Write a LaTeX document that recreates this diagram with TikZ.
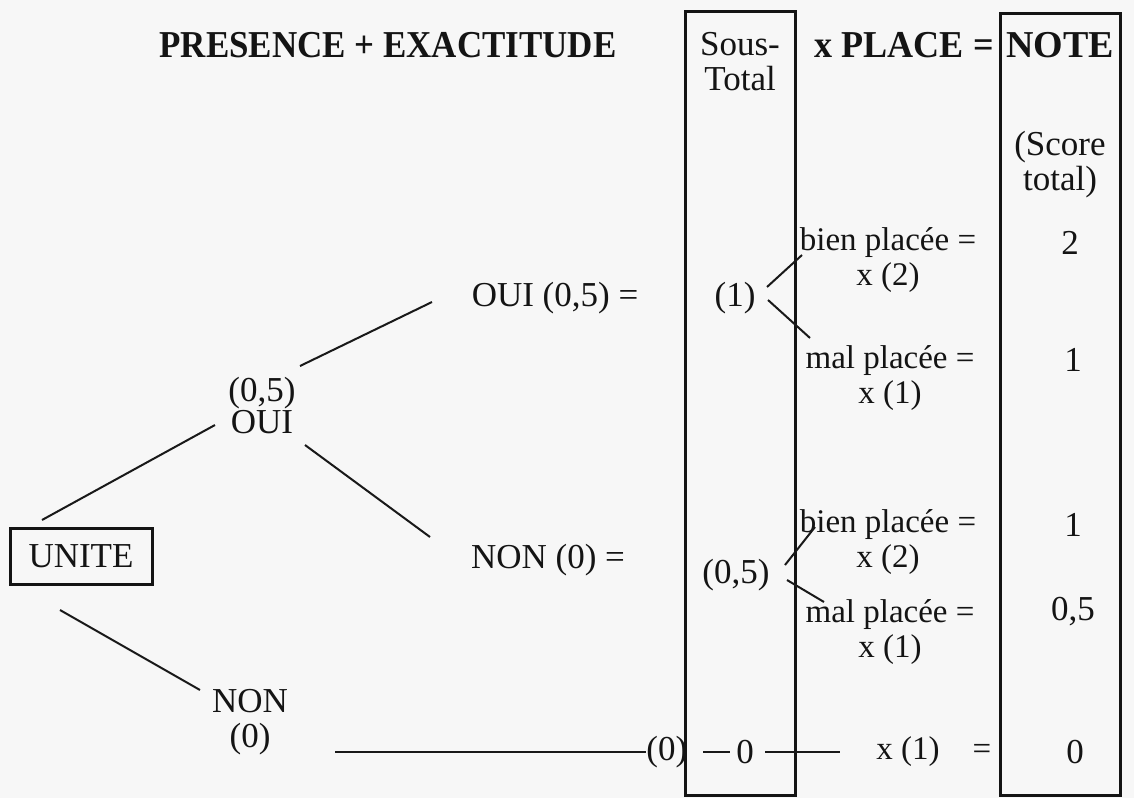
\documentclass[tikz,border=0pt]{standalone}
\usepackage{fontspec}
\setmainfont{Liberation Serif}
\begin{document}
\begin{tikzpicture}[x=0.5pt,y=-0.5pt,
  txt/.style={font=\fontsize{17.5}{17.5}\selectfont, inner sep=0pt, align=center, text=black!92},
  fac/.style={font=\fontsize{16.5}{17.5}\selectfont, inner sep=0pt, align=center, text=black!92},
  hd/.style={font=\fontsize{19}{19}\selectfont\bfseries, inner sep=0pt, text=black!92},
  colbox/.style={draw=black!92, line width=1.5pt, anchor=north, inner sep=0pt},
  link/.style={draw=black!90, line width=1pt}]
% paper
\fill[black!3] (0,0) rectangle (1134,798);
\useasboundingbox (0,0) rectangle (1134,798);

% column frames
\node[colbox, minimum width=55pt, minimum height=392pt] (stcol) at (740,10) {};
\node[colbox, minimum width=60pt, minimum height=391pt] (notecol) at (1060,12) {};

% header row
\node[hd] (title) at (388,45) {\scalebox{0.92}[1]{PRESENCE + EXACTITUDE}};
\node[txt] (sous) at (740,62) {Sous-\\Total};
\node[hd] (place) at (904,45) {\scalebox{0.95}[1]{x\hspace{5pt}PLACE\hspace{5pt}=}};
\node[hd] (note) at (1060,45) {NOTE};
\node[txt] (score) at (1060,165) {(Score\\total)};

% tree
\node[txt, draw=black!92, line width=1.5pt, minimum width=71pt, minimum height=28pt] (u) at (81,556) {UNITE};
\node[txt, font=\fontsize{17.5}{16}\selectfont] (p1) at (262,406) {(0,5)\\OUI};
\node[txt] (ouiq) at (555,298) {OUI (0,5) =};
\node[txt] (nonq) at (548,560) {NON (0) =};
\node[txt] (non) at (250,722) {NON\\(0)};
\node[txt, anchor=west] (z1) at (646,752) {(0)};

% sub-totals
\node[txt] (s1) at (735,298) {(1)};
\node[txt] (s2) at (736,575) {(0,5)};
\node[txt] (zero) at (745,752) {0};

% place factors
\node[fac] (b1) at (888,260) {bien placée =\\x (2)};
\node[fac] (m1) at (890,378) {mal placée =\\x (1)};
\node[fac] (b2) at (888,542) {bien placée =\\x (2)};
\node[fac] (m2) at (890,632) {mal placée =\\x (1)};
\node[fac] (x1) at (908,752) {x (1)};
\node[fac] (eq) at (982,752) {=};

% scores
\node[txt] (n2) at (1070,243) {2};
\node[txt] (n1) at (1073,360) {1};
\node[txt] (n1b) at (1073,525) {1};
\node[txt] (n05) at (1073,612) {0,5};
\node[txt] (n0) at (1075,752) {0};

% branches
\draw[link] ([shift={(-39,-36)}]u.center) -- ([shift={(-47,19)}]p1.center);
\draw[link] ([shift={(38,-40)}]p1.center) -- ([shift={(-123,4)}]ouiq.center);
\draw[link] ([shift={(43,39)}]p1.center) -- ([shift={(-118,-23)}]nonq.center);
\draw[link] ([shift={(-21,54)}]u.center) -- ([shift={(-50,-32)}]non.center);
\draw[link] ([shift={(85,30)}]non.center) -- (z1.west);

\draw[link] ([shift={(32,-11)}]s1.center) -- ([shift={(-86,-5)}]b1.center);
\draw[link] ([shift={(33,2)}]s1.center) -- ([shift={(-80,-40)}]m1.center);
\draw[link] ([shift={(49,-10)}]s2.center) -- ([shift={(-73,-15)}]b2.center);
\draw[link] ([shift={(51,5)}]s2.center) -- ([shift={(-66,-30)}]m2.center);

% dashes around the zero sub-total
\draw[link] ([shift={(-42,0)}]zero.center) -- ([shift={(-15,0)}]zero.center);
\draw[link] ([shift={(20,0)}]zero.center) -- ([shift={(-68,0)}]x1.center);
\end{tikzpicture}
\end{document}
